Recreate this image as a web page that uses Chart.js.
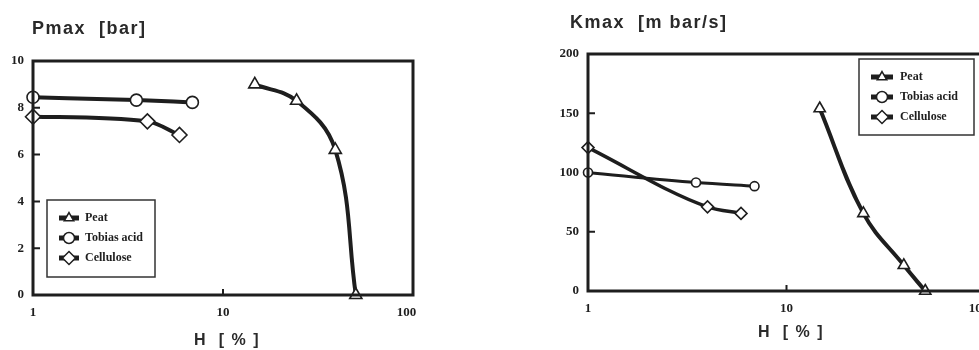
<!DOCTYPE html>
<html>
<head>
<meta charset="utf-8">
<script src="https://cdn.jsdelivr.net/npm/chart.js@4/dist/chart.umd.min.js"></script>
<style>
  html, body { margin: 0; padding: 0; background: #fff; overflow: hidden; }
  body { width: 979px; height: 350px; position: relative; }
  .panel { position: absolute; top: 0; height: 350px; }
  #left { left: 0; width: 490px; }
  #right { left: 490px; width: 530px; }
</style>
</head>
<body>
<div class="panel" id="left"><canvas id="pmaxChart" width="490" height="350"></canvas></div>
<div class="panel" id="right"><canvas id="kmaxChart" width="530" height="350"></canvas></div>
<script>
// Moisture content H [%] for each material
const peatH = [14.7, 24.4, 39, 50];
const tobiasH = [1, 3.5, 6.9];
const celluloseH = [1, 4.0, 5.9];

// Maximum explosion pressure Pmax [bar]
const peatPmax = [9.0, 8.3, 6.2, 0];
const tobiasPmax = [8.45, 8.33, 8.23];
const cellulosePmax = [7.62, 7.42, 6.84];

// Maximum rate of pressure rise Kmax [m bar/s]
const peatKmax = [154, 65.5, 21.7, 0];
const tobiasKmax = [100, 91.5, 88.5];
const celluloseKmax = [121, 71, 65.5];

// Tick labels
const xTicks = [1, 10, 100];
const pmaxTicks = [0, 2, 4, 6, 8, 10];
const kmaxTicks = [0, 50, 100, 150, 200];

const seriesNames = ['Peat', 'Tobias acid', 'Cellulose'];
const INK = '#1e1e1e';

function pts(xs, ys) { return xs.map((x, i) => ({ x: x, y: ys[i] })); }

function series(name, xs, ys, style, lw, radius, smooth) {
  const ds = {
    label: name,
    data: pts(xs, ys),
    borderColor: INK,
    borderWidth: lw,
    backgroundColor: '#fff',
    pointStyle: style,
    pointRadius: radius,
    pointBorderWidth: 1.6,
    pointBorderColor: INK,
    pointBackgroundColor: '#fff',
    fill: false,
    clip: false
  };
  if (smooth) { ds.tension = 0.4; } else { ds.cubicInterpolationMode = 'monotone'; }
  return ds;
}

// Frame, inward ticks, headings and boxed legend
const decorPlugin = {
  id: 'decor',
  afterDatasetsDraw(chart, args, o) {
    const ctx = chart.ctx, a = chart.chartArea;
    const xs = chart.scales.x, ys = chart.scales.y;
    ctx.save();
    ctx.strokeStyle = INK;
    ctx.lineWidth = 3;
    ctx.strokeRect(a.left, a.top, a.right - a.left, a.bottom - a.top);
    ctx.lineWidth = 2;
    ctx.beginPath();
    o.innerY.forEach(v => {
      const y = ys.getPixelForValue(v);
      ctx.moveTo(a.left, y); ctx.lineTo(a.left + 7, y);
    });
    const x10 = xs.getPixelForValue(10);
    ctx.moveTo(x10, a.bottom); ctx.lineTo(x10, a.bottom - 6);
    ctx.stroke();

    // heading and axis title
    ctx.fillStyle = '#2a2a2a';
    ctx.textBaseline = 'middle';
    ctx.textAlign = 'left';
    ctx.font = 'bold 18px "Liberation Sans", Arial, sans-serif';
    ctx.letterSpacing = '1.5px';
    ctx.fillText(o.heading, o.headX, o.headY);
    ctx.textAlign = 'center';
    ctx.font = 'bold 16px "Liberation Sans", Arial, sans-serif';
    ctx.fillText('H  [ % ]', o.axisX, o.axisY);
    ctx.letterSpacing = '0px';

    // legend box
    const L = o.legend;
    ctx.fillStyle = '#fff';
    ctx.fillRect(L.x, L.y, L.w, L.h);
    ctx.lineWidth = 1.5;
    ctx.strokeStyle = '#333';
    ctx.strokeRect(L.x, L.y, L.w, L.h);
    chart.data.datasets.forEach((ds, i) => {
      const cy = L.y + L.first + i * L.step;
      ctx.strokeStyle = INK;
      ctx.lineWidth = 5;
      ctx.beginPath();
      ctx.moveTo(L.x + L.lineX0, cy); ctx.lineTo(L.x + L.lineX1, cy);
      ctx.stroke();
      const mx = L.x + (L.lineX0 + L.lineX1) / 2;
      ctx.fillStyle = '#fff';
      ctx.strokeStyle = INK;
      ctx.lineWidth = 1.5;
      Chart.helpers.drawPoint(ctx, {
        pointStyle: ds.pointStyle, radius: ds.pointStyle === 'rectRot' ? 6.5 : 5.5, borderWidth: 1.5
      }, mx, cy);
      ctx.fillStyle = INK;
      ctx.textAlign = 'left';
      ctx.font = 'bold 12px "Liberation Serif", "Times New Roman", serif';
      ctx.fillText(ds.label, L.x + L.textX, cy);
    });
    ctx.restore();
  }
};

function fixTicks(values) {
  return function (scale) { scale.ticks = values.map(v => ({ value: v })); };
}

function makeChart(id, sets, yMax, yTicks, yWidth, pad, deco) {
  return new Chart(document.getElementById(id), {
    type: 'line',
    data: { datasets: sets },
    options: {
      responsive: false,
      animation: false,
      events: [],
      layout: { padding: pad },
      plugins: { legend: { display: false }, tooltip: { enabled: false }, decor: deco },
      scales: {
        x: {
          type: 'logarithmic',
          min: 1, max: 100,
          afterBuildTicks: fixTicks(xTicks),
          afterFit(s) { s.height = 350 - pad.top - deco.plotH; },
          grid: { display: false, drawTicks: false },
          border: { display: false },
          ticks: {
            color: INK, padding: 10, maxRotation: 0, autoSkip: false,
            font: { family: '"Liberation Serif", "Times New Roman", serif', size: 13, weight: 'bold' },
            // the last decade label sits a little left of the frame corner
            callback: v => v === 100 ? '100\u2002\u2002' : String(v)
          }
        },
        y: {
          type: 'linear',
          min: 0, max: yMax,
          afterBuildTicks: fixTicks(yTicks),
          afterFit(s) { s.width = yWidth; },
          grid: { display: false, drawTicks: false },
          border: { display: false },
          ticks: {
            color: INK, padding: 9,
            font: { family: '"Liberation Serif", "Times New Roman", serif', size: 13, weight: 'bold' }
          }
        }
      }
    },
    plugins: [decorPlugin]
  });
}

makeChart('pmaxChart', [
  series(seriesNames[0], peatH, peatPmax, 'triangle', 4, 7, true),
  series(seriesNames[1], tobiasH, tobiasPmax, 'circle', 4, 6, false),
  series(seriesNames[2], celluloseH, cellulosePmax, 'rectRot', 4, 7.5, false)
], 10, pmaxTicks, 33, { top: 61, right: 77, left: 0, bottom: 0 }, {
  plotH: 234,
  innerY: [2, 4, 6, 8],
  heading: 'Pmax  [bar]', headX: 32, headY: 29,
  axisX: 227, axisY: 341,
  legend: { x: 47, y: 200, w: 108, h: 77, first: 18, step: 20, lineX0: 12, lineX1: 32, textX: 38 }
});

makeChart('kmaxChart', [
  series(seriesNames[0], peatH, peatKmax, 'triangle', 4, 6.5, true),
  series(seriesNames[1], tobiasH, tobiasKmax, 'circle', 3, 4.5, false),
  series(seriesNames[2], celluloseH, celluloseKmax, 'rectRot', 3.5, 6, false)
], 200, kmaxTicks, 98, { top: 54, right: 35, left: 0, bottom: 0 }, {
  plotH: 237,
  innerY: [50, 150],
  heading: 'Kmax  [m bar/s]', headX: 80, headY: 23,
  axisX: 301, axisY: 333,
  legend: { x: 369, y: 59, w: 115, h: 76, first: 18, step: 20, lineX0: 12, lineX1: 34, textX: 41 }
});
</script>
</body>
</html>
